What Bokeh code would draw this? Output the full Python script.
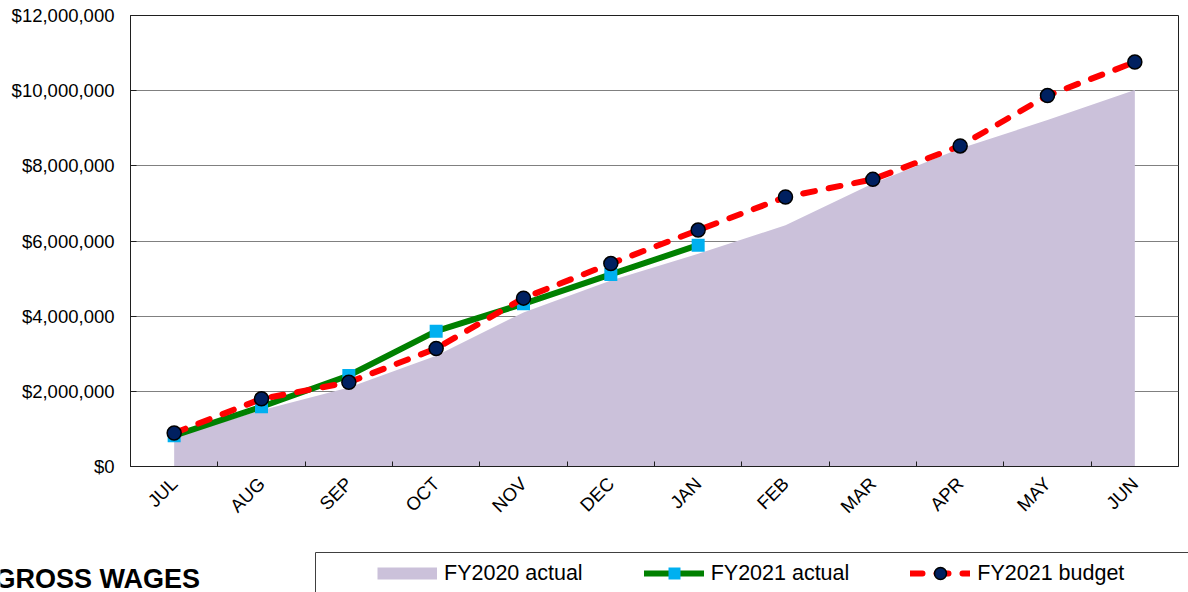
from math import pi

import numpy as np
from bokeh.core.properties import value
from bokeh.embed import file_html
from bokeh.layouts import column
from bokeh.models import (FixedTicker, Legend, LegendItem, NumeralTickFormatter,
                          Range1d)
from bokeh.plotting import figure
from bokeh.resources import INLINE

# Fiscal-year months and cumulative gross wages (dollars)
months = ["JUL", "AUG", "SEP", "OCT", "NOV", "DEC", "JAN", "FEB", "MAR", "APR", "MAY", "JUN"]
fy2020_actual = [770_000, 1_500_000, 2_100_000, 2_950_000, 4_100_000, 4_950_000,
                 5_660_000, 6_420_000, 7_530_000, 8_460_000, 9_220_000, 10_020_000]
fy2021_actual = [820_000, 1_590_000, 2_420_000, 3_600_000, 4_330_000, 5_110_000, 5_890_000]
fy2021_budget = [890_000, 1_800_000, 2_240_000, 3_140_000, 4_480_000, 5_400_000,
                 6_290_000, 7_170_000, 7_640_000, 8_530_000, 9_870_000, 10_760_000]
y_ticks = [0, 2_000_000, 4_000_000, 6_000_000, 8_000_000, 10_000_000, 12_000_000]
series_labels = ["FY2020 actual", "FY2021 actual", "FY2021 budget"]
chart_title = "GROSS WAGES"

FONT = "Liberation Sans"
AXIS_COLOR = "#1f1f1f"
AREA_COLOR = "#CBC1DA"
ACT_COLOR, ACT_MARK = "#008000", "#00B0F0"
BUD_COLOR, BUD_MARK = "#FF0000", "#002060"
BUD_DASH = "12 14"

# months sit in the middle of equal-width slots; slot boundaries carry the tick marks
x_mid = np.arange(len(months)) + 0.5
x_bounds = list(range(1, len(months)))
n_act = len(fy2021_actual)

# ---- main chart -------------------------------------------------------------
p = figure(width=1188, height=530, output_backend="svg", toolbar_location=None,
           x_range=Range1d(0, len(months)), y_range=Range1d(0, 12_000_000),
           min_border_left=130, min_border_right=10, min_border_top=15,
           min_border_bottom=64)
p.frame_align = False
p.background_fill_color = "white"
p.border_fill_color = "white"
p.outline_line_color = AXIS_COLOR
p.outline_line_width = 1

p.varea(x=x_mid, y1=0, y2=fy2020_actual, fill_color=AREA_COLOR)

p.line(x=x_mid[:n_act], y=fy2021_actual, line_color=ACT_COLOR, line_width=6,
       line_join="round")
p.scatter(x=x_mid[:n_act], y=fy2021_actual, marker="square", size=13,
          fill_color=ACT_MARK, line_color=None)

p.line(x=x_mid, y=fy2021_budget, line_color=BUD_COLOR, line_width=6,
       line_dash=BUD_DASH, line_cap="round", line_join="round")
p.scatter(x=x_mid, y=fy2021_budget, marker="circle", size=14,
          fill_color=BUD_MARK, line_color="black", line_width=1.5)

xa = p.xaxis[0]
xa.ticker = FixedTicker(ticks=list(x_mid), minor_ticks=x_bounds)
xa.major_label_overrides = {float(v): m for v, m in zip(x_mid, months)}
xa.major_label_orientation = pi / 4
xa.major_label_text_font = FONT
xa.major_label_text_font_size = "18.5px"
xa.major_label_text_color = "black"
xa.major_label_standoff = 8
xa.major_tick_line_color = None
xa.minor_tick_line_color = AXIS_COLOR
xa.minor_tick_in = 5
xa.minor_tick_out = 0
xa.axis_line_color = AXIS_COLOR

ya = p.yaxis[0]
ya.ticker = FixedTicker(ticks=y_ticks, minor_ticks=[])
ya.formatter = NumeralTickFormatter(format="$0,0")
ya.major_label_text_font = FONT
ya.major_label_text_font_size = "18.5px"
ya.major_label_text_color = "black"
ya.major_label_standoff = 16
ya.major_tick_in = 6
ya.major_tick_out = 0
ya.major_tick_line_color = AXIS_COLOR
ya.axis_line_color = AXIS_COLOR

p.xgrid.visible = False
p.ygrid.grid_line_color = "#808080"
p.ygrid.grid_line_width = 1

# ---- footer strip: title and legend (page-pixel coordinates) ----------------
f = figure(width=1188, height=62, output_backend="svg", toolbar_location=None,
           x_range=Range1d(0, 1188), y_range=Range1d(592, 530),
           x_axis_location=None, y_axis_location=None,
           min_border=0, min_border_left=0, min_border_right=0,
           min_border_top=0, min_border_bottom=0)
f.frame_align = False
f.outline_line_color = None
f.grid.visible = False
f.background_fill_color = "white"
f.border_fill_color = "white"

f.text(x=[-6], y=[578], text=[chart_title], text_font=value(FONT),
       text_font_size="27px", text_font_style="bold", text_color="black",
       text_baseline="alphabetic")

# legend frame
f.quad(left=[315], right=[1200], top=[552], bottom=[620], fill_alpha=0,
       line_color="#404040", line_width=1)

# legend swatch renderers, parked off-screen so only their legend samples show
off_x, off_y = [-60, -40], [700, 700]
leg_area = f.line(x=off_x, y=off_y, line_color=AREA_COLOR, line_width=12,
                  line_cap="butt")
leg_act_line = f.line(x=off_x, y=off_y, line_color=ACT_COLOR, line_width=6,
                      line_cap="round")
leg_act_pts = f.scatter(x=off_x, y=off_y, marker="square", size=13,
                        fill_color=ACT_MARK, line_color=None)
leg_bud_line = f.line(x=off_x, y=off_y, line_color=BUD_COLOR, line_width=6,
                      line_dash=BUD_DASH, line_cap="round")
leg_bud_pts = f.scatter(x=off_x, y=off_y, marker="circle", size=14,
                        fill_color=BUD_MARK, line_color="black", line_width=1.5)

legend = Legend(items=[
    LegendItem(label=series_labels[0], renderers=[leg_area]),
    LegendItem(label=series_labels[1], renderers=[leg_act_line, leg_act_pts]),
    LegendItem(label=series_labels[2], renderers=[leg_bud_line, leg_bud_pts]),
], orientation="horizontal", location=(367, -6))
legend.label_text_font = FONT
legend.label_text_font_size = "21.5px"
legend.label_text_color = "black"
legend.glyph_width = 60
legend.glyph_height = 30
legend.label_standoff = 7
legend.spacing = 61
legend.padding = 10
legend.border_line_alpha = 0
legend.background_fill_alpha = 0
f.add_layout(legend)

page = column(p, f, spacing=0)
open("out.html", "w").write(file_html(page, INLINE))
